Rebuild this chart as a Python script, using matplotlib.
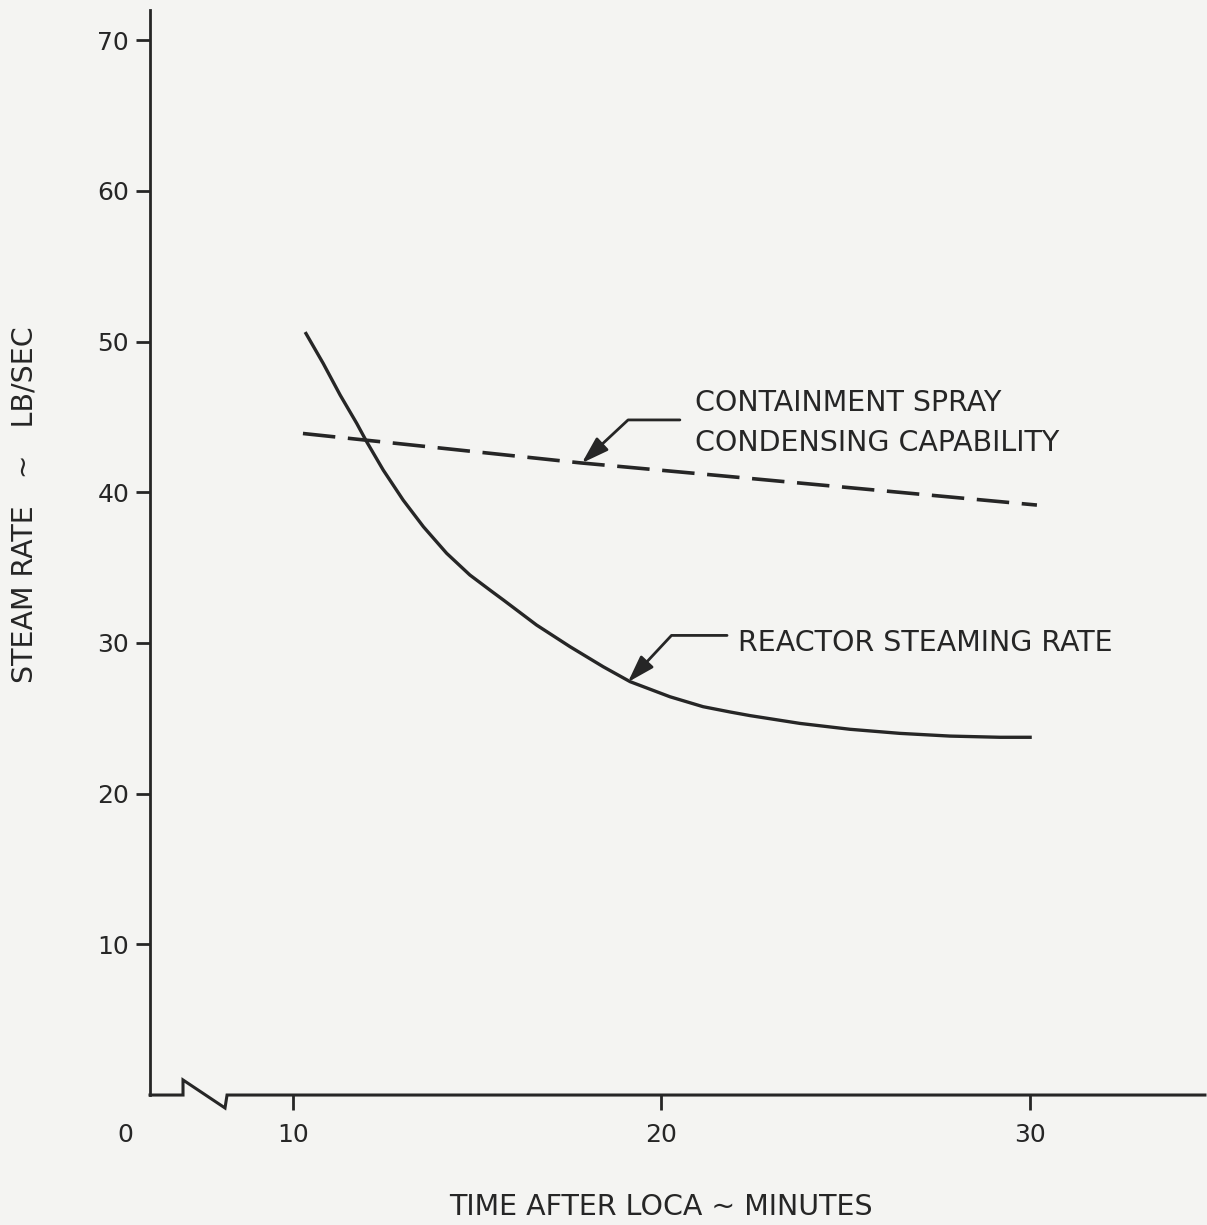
import matplotlib
matplotlib.use("Agg")
import matplotlib.pyplot as plt

# reactor steaming rate (solid)
reactor_t = [10.33, 10.82, 11.28, 11.73, 12.0, 12.45, 12.99, 13.54, 14.17, 14.8,
             15.35, 15.71, 16.61, 17.52, 18.42, 19.15, 20.23, 21.13, 21.86, 22.4,
             23.76, 25.12, 26.47, 27.83, 29.19, 30.05]
reactor_rate = [50.63, 48.55, 46.45, 44.57, 43.35, 41.47, 39.48, 37.71, 35.95, 34.51,
                33.5, 32.85, 31.19, 29.75, 28.42, 27.43, 26.43, 25.77, 25.42, 25.18,
                24.66, 24.27, 24.0, 23.82, 23.74, 23.74]

# containment spray condensing capability (dashed)
spray_t = [10.27, 17.8, 21.6, 30.19]
spray_rate = [43.9, 41.95, 41.1, 39.15]

y_ticks = [10, 20, 30, 40, 50, 60, 70]
x_ticks = [10, 20, 30]

ink = "#262626"
paper = "#f4f4f2"

plt.rcParams["font.family"] = ["DejaVu Sans"]

fig = plt.figure(figsize=(12.07, 12.25), dpi=100, facecolor=paper)
ax = fig.add_axes([0.1243, 0.1061, 0.874, 0.8857])
ax.set_facecolor(paper)

ax.set_xlim(6.12, 34.75)
ax.set_ylim(0, 72)

for s in ["top", "right", "bottom"]:
    ax.spines[s].set_visible(False)
ax.spines["left"].set_linewidth(2)
ax.spines["left"].set_color(ink)

# x axis with a break symbol near the origin
ax.plot([6.12, 7.015, 7.015, 8.155, 8.21, 34.75], [0, 0, 1.0, -0.86, 0, 0],
        color=ink, lw=2.2, clip_on=False, solid_joinstyle="miter")

ax.set_yticks(y_ticks)
ax.set_yticklabels([str(v) for v in y_ticks])
ax.set_xticks(x_ticks)
ax.set_xticklabels([str(v) for v in x_ticks])
ax.tick_params(axis="y", direction="out", length=10, width=2, color=ink,
               labelsize=18, labelcolor=ink, pad=5)
ax.tick_params(axis="x", direction="out", length=11, width=2, color=ink,
               labelsize=18, labelcolor=ink, pad=9)
ax.text(5.44, -2.65, "0", fontsize=18, color=ink, ha="center", va="center",
        clip_on=False)

ax.plot(reactor_t, reactor_rate, color=ink, lw=2.4, solid_capstyle="butt",
        solid_joinstyle="round")
ax.plot(spray_t, spray_rate, color=ink, lw=2.6, dashes=(9, 3.5))

# callouts
arrow_kw = dict(arrowstyle="-|>,head_length=0.75,head_width=0.24", color=ink,
                lw=2, shrinkA=0, shrinkB=0, mutation_scale=22)
ax.annotate("", xy=(17.84, 41.94), xytext=(20.5, 44.8),
            arrowprops=dict(connectionstyle="angle,angleA=0,angleB=43,rad=0", **arrow_kw))
ax.text(20.91, 45.9, "CONTAINMENT SPRAY", fontsize=20.5, color=ink, va="center")
ax.text(20.91, 43.3, "CONDENSING CAPABILITY", fontsize=20.5, color=ink, va="center")

ax.annotate("", xy=(19.09, 27.4), xytext=(21.78, 30.5),
            arrowprops=dict(connectionstyle="angle,angleA=0,angleB=47,rad=0", **arrow_kw))
ax.text(22.08, 30.0, "REACTOR STEAMING RATE", fontsize=20.5, color=ink, va="center")

fig.text(0.5476, 0.0147, "TIME AFTER LOCA ~ MINUTES", fontsize=20.5, color=ink,
         ha="center", va="center")
fig.text(0.0207, 0.5878, "STEAM RATE   ~   LB/SEC", fontsize=20.5, color=ink,
         ha="center", va="center", rotation=90)

fig.savefig("out.png", dpi=100, facecolor=paper)
